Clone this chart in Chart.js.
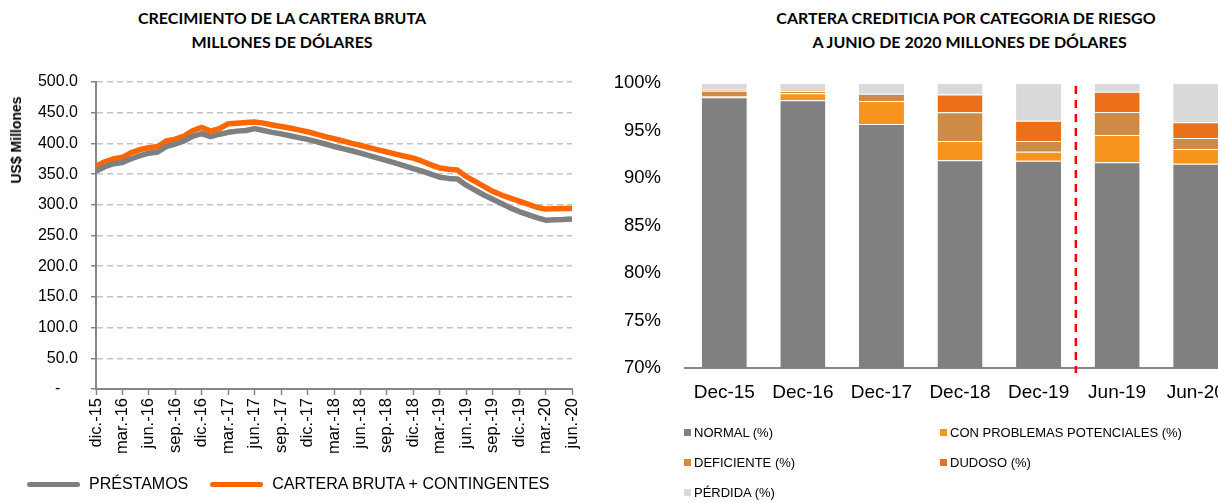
<!DOCTYPE html>
<html>
<head>
<meta charset="utf-8">
<script src="https://cdn.jsdelivr.net/npm/chart.js@4.4.0/dist/chart.umd.min.js"></script>
<style>
  body { margin: 0; width: 1218px; height: 503px; overflow: hidden; position: relative; background: #fff; font-family: "Liberation Sans", Arial, sans-serif; }
  .titulo { position: absolute; top: 6px; width: 440px; text-align: center; font: bold 16px Lato, "Liberation Sans", sans-serif; line-height: 24px; color: #000; }
  #wrapIzq { position: absolute; left: 0; top: 0; width: 600px; height: 503px; }
  #wrapDer { position: absolute; left: 600px; top: 0; width: 635px; height: 503px; }
  #ejeY { position: absolute; left: 16px; top: 140px; transform: translate(-50%, -50%) rotate(-90deg); font: bold 14px "Liberation Sans", Arial, sans-serif; white-space: nowrap; }
  #leyIzq { position: absolute; left: 27px; top: 475px; font-size: 16px; display: flex; align-items: center; }
  #leyIzq .linea { display: inline-block; width: 53px; height: 5px; border-radius: 3px; margin-right: 9px; }
  #leyDer span.item { position: absolute; font-size: 13px; white-space: nowrap; display: flex; align-items: center; }
  #leyDer i { display: inline-block; width: 7px; height: 7px; margin-right: 3px; }
</style>
</head>
<body>
<div class="titulo" style="left:62px">CRECIMIENTO DE LA CARTERA BRUTA<br>MILLONES DE DÓLARES</div>
<div class="titulo" style="left:746px">CARTERA CREDITICIA POR CATEGORIA DE RIESGO<br>&nbsp;&nbsp;A JUNIO DE 2020 MILLONES DE DÓLARES</div>
<div id="wrapIzq"><canvas id="lineas"></canvas></div>
<div id="ejeY">US$ Millones</div>
<div id="leyIzq"></div>
<div id="wrapDer"><canvas id="barras"></canvas></div>
<div id="leyDer"></div>
<script>
// ---- datos: crecimiento de la cartera (mensual, dic-15 a jun-20) ----
var meses = ['ene.','feb.','mar.','abr.','may.','jun.','jul.','ago.','sep.','oct.','nov.','dic.'];
var prestamos = [355,362,367,369,375,380,384,386,395,399,404,412,416,411,415,418,420,421,424,
  421,418,415.5,412.5,409.5,406.5,403,399,395,391.5,388,384,380,376,372,368,363.5,359,355,350,
  345,343,342,332,324,316,309,302,295,289,284,279,275,275.5,276,277];
var carteraBruta = [363,370,375,377,385,390,393,395,404,407,412,421,426,420,424,432,433,434,435,
  433,430,427.5,425,422,419,415,411,407.5,404,400,397,393,389.5,386,382.5,379,376,371,365,360,
  358,356.5,346,338,330,322,316,311,306,301,296,293,293.5,294,294];

// etiquetas mensuales dic.-15 ... jun.-20
var etiquetas = [];
for (var i = 0; i < prestamos.length; i++) {
  var m = (11 + i) % 12;
  var a = 15 + Math.floor((11 + i) / 12);
  etiquetas.push(meses[m] + '-' + a);
}

// ---- datos: cartera por categoria de riesgo ----
var periodos = ['Dec-15','Dec-16','Dec-17','Dec-18','Dec-19','Jun-19','Jun-20'];
var normal      = [98.49, 98.18, 95.68, 91.86, 91.82, 91.65, 91.51];
var potenciales = [0.10, 0.74, 2.42, 2.04, 0.95, 2.88, 1.54];
var deficiente  = [0.60, 0.25, 0.77, 3.02, 1.12, 2.42, 1.16];
var dudoso      = [0.10, 0.07, 0.07, 1.86, 2.14, 2.14, 1.65];
var perdida     = [0.71, 0.76, 1.06, 1.22, 3.97, 0.91, 4.14];
var separadorDespuesDe = 4; // linea roja entre Dec-19 y Jun-19

var gris = '#7F7F7F', naranja = '#FF6600';
var ejeColor = '#868686';

new Chart(document.getElementById('lineas'), {
  type: 'line',
  data: {
    labels: etiquetas,
    datasets: [
      { label: 'PRÉSTAMOS', data: prestamos, borderColor: gris, backgroundColor: gris, borderWidth: 5.5, pointRadius: 0, fill: false, borderJoinStyle: 'round' },
      { label: 'CARTERA BRUTA + CONTINGENTES', data: carteraBruta, borderColor: naranja, backgroundColor: naranja, borderWidth: 5.5, pointRadius: 0, fill: false, borderJoinStyle: 'round' }
    ]
  },
  options: {
    responsive: true,
    maintainAspectRatio: false,
    animation: false,
    layout: { padding: { top: 82, right: 28, left: 0, bottom: 0 } },
    plugins: { legend: { display: false }, tooltip: { enabled: false } },
    scales: {
      x: {
        afterFit: function (s) { s.height = 114; },
        grid: { drawOnChartArea: false, drawTicks: true, tickLength: 6, tickColor: ejeColor, tickWidth: 1.5 },
        border: { display: true, color: ejeColor, width: 2 },
        ticks: {
          autoSkip: false, minRotation: 90, maxRotation: 90, padding: 3, color: '#000',
          font: { family: 'Liberation Sans', size: 16.5 },
          callback: function (v, idx) { return idx % 3 === 0 ? this.getLabelForValue(v) : null; }
        }
      },
      y: {
        min: 0, max: 500,
        afterFit: function (s) { s.width = 96; },
        grid: { color: '#C4C4C4', lineWidth: 1.5, tickLength: 5, tickColor: ejeColor, tickBorderDash: [] },
        border: { display: true, color: ejeColor, width: 2, dash: [6, 4] },
        ticks: {
          stepSize: 50, padding: 13, color: '#000',
          font: { family: 'Liberation Sans', size: 16 },
          callback: function (v) { return v === 0 ? '-    ' : v.toFixed(1); }
        }
      }
    }
  }
});

// leyenda izquierda
var leyIzq = document.getElementById('leyIzq');
[['PRÉSTAMOS', gris], ['CARTERA BRUTA + CONTINGENTES', naranja]].forEach(function (it, k) {
  var s = document.createElement('span');
  s.style.display = 'flex'; s.style.alignItems = 'center';
  if (k > 0) s.style.marginLeft = '22px';
  s.innerHTML = '<span class="linea" style="background:' + it[1] + '"></span>' + it[0];
  leyIzq.appendChild(s);
});

var lineaRoja = {
  id: 'lineaRoja',
  afterDatasetsDraw: function (chart) {
    var x = chart.scales.x;
    var px = (x.getPixelForValue(separadorDespuesDe) + x.getPixelForValue(separadorDespuesDe + 1)) / 2 - 2;
    var ctx = chart.ctx;
    ctx.save();
    ctx.strokeStyle = '#FF0000';
    ctx.lineWidth = 2.5;
    ctx.setLineDash([8, 6]);
    ctx.beginPath();
    ctx.moveTo(px, chart.chartArea.top + 3);
    ctx.lineTo(px, chart.chartArea.bottom + 5);
    ctx.stroke();
    ctx.restore();
  }
};

var series = [
  ['NORMAL (%)', normal, '#808080'],
  ['CON PROBLEMAS POTENCIALES (%)', potenciales, '#F7941D'],
  ['DEFICIENTE (%)', deficiente, '#CD8B45'],
  ['DUDOSO (%)', dudoso, '#EC7019'],
  ['PÉRDIDA (%)', perdida, '#D9D9D9']
];

new Chart(document.getElementById('barras'), {
  type: 'bar',
  data: {
    labels: periodos,
    datasets: series.map(function (s) {
      return { label: s[0], data: s[1], backgroundColor: s[2], borderColor: 'rgba(255,255,255,0.35)', borderWidth: { top: 1 }, borderSkipped: false, barPercentage: 0.573, categoryPercentage: 1 };
    })
  },
  options: {
    responsive: true,
    maintainAspectRatio: false,
    animation: false,
    layout: { padding: { top: 83, right: 0, left: 0, bottom: 0 } },
    plugins: { legend: { display: false }, tooltip: { enabled: false } },
    scales: {
      x: {
        stacked: true,
        afterFit: function (s) { s.height = 135; },
        grid: { display: false },
        border: { display: true, color: ejeColor, width: 2 },
        ticks: { padding: 5, color: '#000', font: { family: 'Liberation Sans', size: 19 } }
      },
      y: {
        stacked: true, min: 70, max: 100,
        afterFit: function (s) { s.width = 85; },
        grid: { display: false },
        border: { display: false },
        ticks: { stepSize: 5, padding: 16, color: '#000', font: { family: 'Liberation Sans', size: 18.5 },
          callback: function (v) { return v + '%'; } }
      }
    }
  },
  plugins: [lineaRoja]
});

// leyenda derecha en dos columnas
var leyDer = document.getElementById('leyDer');
var posLey = [[684, 433], [940, 433], [684, 463], [940, 463], [684, 493]];
series.forEach(function (s, k) {
  var el = document.createElement('span');
  el.className = 'item';
  el.style.left = posLey[k][0] + 'px';
  el.style.top = (posLey[k][1] - 8) + 'px';
  el.innerHTML = '<i style="background:' + s[2] + '"></i>' + s[0];
  leyDer.appendChild(el);
});
</script>
</body>
</html>
